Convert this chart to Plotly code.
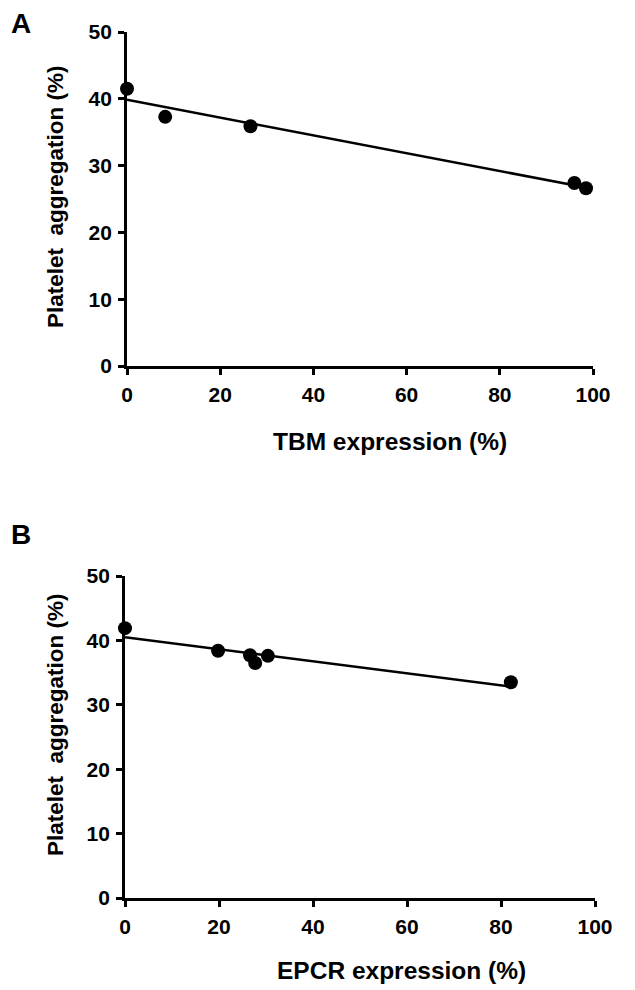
import numpy as np
import plotly.graph_objects as go

# Panel A: TBM expression vs platelet aggregation
tbm_x = [0, 8.2, 26.5, 96.0, 98.5]
tbm_y = [41.5, 37.3, 35.9, 27.4, 26.6]

# Panel B: EPCR expression vs platelet aggregation
epcr_x = [0, 19.8, 26.6, 27.7, 30.4, 82.1]
epcr_y = [41.9, 38.4, 37.7, 36.5, 37.6, 33.5]

x_ticks = [0, 20, 40, 60, 80, 100]
y_ticks = [0, 10, 20, 30, 40, 50]

FONT = "Liberation Sans, Arial, sans-serif"
W, H = 635, 990
OFF = 8  # page body margin

fig = go.Figure()

def add_panel(xs, ys, xa, ya):
    slope, icpt = np.polyfit(xs, ys, 1)
    lx = [min(xs), max(xs)]
    ly = [icpt + slope * v for v in lx]
    fig.add_trace(go.Scatter(x=lx, y=ly, mode="lines",
                             line=dict(color="black", width=2.5),
                             xaxis=xa, yaxis=ya, showlegend=False,
                             cliponaxis=False))
    fig.add_trace(go.Scatter(x=xs, y=ys, mode="markers",
                             marker=dict(color="black", size=14),
                             xaxis=xa, yaxis=ya, showlegend=False,
                             cliponaxis=False))

add_panel(tbm_x, tbm_y, "x", "y")
add_panel(epcr_x, epcr_y, "x2", "y2")

axis_common = dict(showline=True, linecolor="black", linewidth=2.8,
                   ticks="outside", ticklen=6, tickwidth=2.5, tickcolor="black",
                   showgrid=False, zeroline=False, automargin=False,
                   ticklabelstandoff=2,
                   tickfont=dict(family=FONT, size=21, color="black", weight="bold"))

def xd(a, b):
    return [(a - OFF) / W, (b - OFF) / W]

def yd(top, bottom):
    return [1 - (bottom - OFF) / H, 1 - (top - OFF) / H]

fig.update_layout(
    width=W, height=H, autosize=False,
    margin=dict(l=0, r=0, t=0, b=0, pad=0),
    paper_bgcolor="white", plot_bgcolor="white",
    xaxis=dict(domain=xd(127, 593), range=[0, 100], tickvals=x_ticks,
               anchor="y", **axis_common),
    yaxis=dict(domain=yd(32, 366), range=[0, 50], tickvals=y_ticks,
               anchor="x", **axis_common),
    xaxis2=dict(domain=xd(125, 595), range=[0, 100], tickvals=x_ticks,
                anchor="y2", **axis_common),
    yaxis2=dict(domain=yd(576, 898), range=[0, 50], tickvals=y_ticks,
                anchor="x2", **axis_common),
)

def ann(text, x, y, size, angle=0):
    fig.add_annotation(text=text, x=(x - OFF) / W, y=1 - (y - OFF) / H,
                       xref="paper", yref="paper",
                       showarrow=False, textangle=angle, xanchor="center", yanchor="middle",
                       font=dict(family=FONT, size=size, color="black", weight="bold"))

ann("A", 21, 24, 28)
ann("B", 21, 534, 28)
ann("Platelet\u00a0 aggregation (%)", 55, 197, 22.5, -90)
ann("Platelet\u00a0 aggregation (%)", 55, 725, 22.5, -90)
ann("TBM expression (%)", 390, 441, 24.5)
ann("EPCR expression (%)", 401, 970, 24.5)

fig.write_html("out.html")
